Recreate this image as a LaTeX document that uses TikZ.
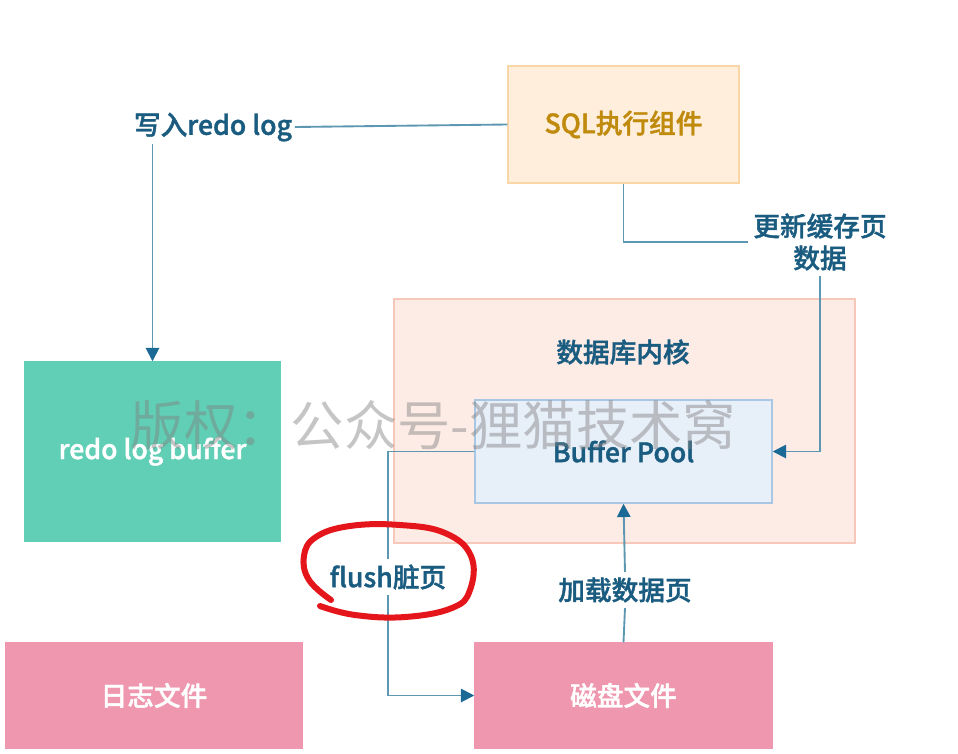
\documentclass[tikz,border=0pt]{standalone}
\usepackage{fontspec}
\setmainfont{Noto Sans CJK SC}[BoldFont={Noto Sans CJK SC Medium},BoldFeatures={FakeBold=1.4}]
\usetikzlibrary{arrows.meta}
\definecolor{lbl}{HTML}{1A5C80}
\definecolor{gold}{HTML}{C08A0C}
\definecolor{wire}{HTML}{5E97B2}
\definecolor{tip}{HTML}{1B6A96}
\definecolor{sqlfill}{HTML}{FEEEDB}
\definecolor{sqlline}{HTML}{F8D6A6}
\definecolor{teal}{HTML}{60CFB5}
\definecolor{pinkbox}{HTML}{EE97AE}
\definecolor{corefill}{HTML}{FDEBE5}
\definecolor{coreline}{HTML}{F6C8BA}
\definecolor{bpfill}{HTML}{E7EFF9}
\definecolor{bpline}{HTML}{A9C6E2}
\definecolor{redpen}{HTML}{E5161B}
\begin{document}
\begin{tikzpicture}[x=0.75pt,y=-0.75pt,
  txt/.style={font=\fontsize{20}{24}\selectfont\bfseries},
  lab/.style={txt,text=lbl,inner sep=4pt},
  box/.style={rectangle,line width=1.1pt,txt},
  wirel/.style={draw=wire,line width=1.4pt},
  arr/.style={wirel,-{Triangle[length=10pt,width=10pt,fill=tip,color=tip]}}
]
\useasboundingbox (0,0) rectangle (958,754);
\fill[white] (0,0) rectangle (958,754);
% boxes
\node[box,fill=sqlfill,draw=sqlline,text=gold,minimum width=173.25pt,minimum height=87.75pt] (sql) at (623.5,124.5) {SQL执行组件};
\node[box,fill=teal,draw=teal,text=white,minimum width=191.25pt,minimum height=134.25pt] (rlb) at (152.5,451.5) {redo log buffer};
\node[box,fill=corefill,draw=coreline,minimum width=345.75pt,minimum height=183pt] (core) at (624.5,421) {};
\node[lab] (corelbl) at (623,352) {数据库内核};
\node[box,fill=bpfill,draw=bpline,text=lbl,minimum width=222.75pt,minimum height=77.25pt] (bp) at (623.5,451.5) {Buffer Pool};
\node[box,fill=pinkbox,draw=pinkbox,text=white,minimum width=222.75pt,minimum height=78.75pt] (disk) at (623.5,695.5) {磁盘文件};
\node[box,fill=pinkbox,draw=pinkbox,text=white,minimum width=222pt,minimum height=78.75pt] (logf) at (154,695.5) {日志文件};
% labels
\node[lab,inner sep=2pt] (wlog) at (213,127) {写入redo log};
\node[lab,align=center] (upd) at (820,242) {更新缓存页\\数据};
\node[lab] (flush) at (388,577) {flush脏页};
\node[lab] (load) at (625,590) {加载数据页};
% connectors
\draw[wirel] (sql.west) -- (wlog.east);
\draw[arr] (wlog.south -| rlb.north) -- (rlb.north);
\draw[wirel] (sql.south) |- (upd.west);
\draw[arr] (upd.south) |- (bp.east);
\draw[wirel] (bp.west) -| (flush.north);
\draw[arr] (flush.south) |- (disk.west);
\draw[wirel] (disk.north) -- (load.south);
\draw[arr] (load.north) -- (bp.south);
% red pen circle
\draw[redpen,line width=4.5pt,line cap=round,line join=round]
  plot[smooth,tension=0.7] coordinates {(331,600) (309,580) (304,556) (316,537) (350,526) (400,525) (445,533) (471,556) (470,590) (452,608) (405,617) (355,615) (320,606)};
% watermark
\node[font=\fontsize{40}{44}\selectfont,text=gray,text opacity=0.45,inner sep=0pt] (wm) at (433.5,425) {版权：公众号-狸猫技术窝};
\end{tikzpicture}
\end{document}
